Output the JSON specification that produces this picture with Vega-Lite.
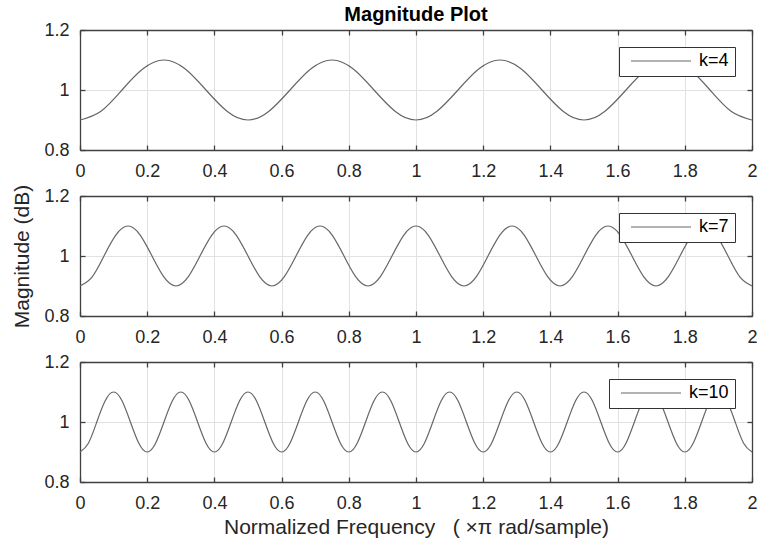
{
  "$schema": "https://vega.github.io/schema/vega-lite/v6.json",
  "background": "white",
  "padding": {"left": 11, "top": 5, "right": 2, "bottom": 2},
  "config": {
    "font": "Liberation Sans",
    "view": {"stroke": null},
    "axis": {
      "domainColor": "#404040",
      "domainWidth": 1.3,
      "tickColor": "#404040",
      "tickWidth": 1.3,
      "tickSize": -5,
      "gridColor": "#e2e2e2",
      "gridWidth": 1,
      "labelFont": "Liberation Sans",
      "labelFontSize": 18,
      "labelColor": "#262626",
      "titleFont": "Liberation Sans",
      "titleFontSize": 21,
      "titleFontWeight": "normal",
      "titleColor": "#262626"
    },
    "legend": {
      "title": null,
      "orient": "top-right",
      "offset": 17,
      "symbolType": "stroke",
      "symbolSize": 3600,
      "symbolStrokeWidth": 1.2,
      "symbolOffset": 5,
      "clipHeight": 16,
      "labelFont": "Liberation Sans",
      "labelFontSize": 18,
      "labelColor": "#000000",
      "labelOffset": 7,
      "padding": 6,
      "strokeColor": "#333333",
      "fillColor": "white"
    }
  },
  "datasets": {
    "k4": [
      {"k": "k=4", "w": 0, "m": 0.9}, {"k": "k=4", "w": 0.0625, "m": 0.9293}, {"k": "k=4", "w": 0.125, "m": 1}, {"k": "k=4", "w": 0.1875, "m": 1.0707},
      {"k": "k=4", "w": 0.25, "m": 1.1}, {"k": "k=4", "w": 0.3125, "m": 1.0707}, {"k": "k=4", "w": 0.375, "m": 1}, {"k": "k=4", "w": 0.4375, "m": 0.9293},
      {"k": "k=4", "w": 0.5, "m": 0.9}, {"k": "k=4", "w": 0.5625, "m": 0.9293}, {"k": "k=4", "w": 0.625, "m": 1}, {"k": "k=4", "w": 0.6875, "m": 1.0707},
      {"k": "k=4", "w": 0.75, "m": 1.1}, {"k": "k=4", "w": 0.8125, "m": 1.0707}, {"k": "k=4", "w": 0.875, "m": 1}, {"k": "k=4", "w": 0.9375, "m": 0.9293},
      {"k": "k=4", "w": 1, "m": 0.9}, {"k": "k=4", "w": 1.0625, "m": 0.9293}, {"k": "k=4", "w": 1.125, "m": 1}, {"k": "k=4", "w": 1.1875, "m": 1.0707},
      {"k": "k=4", "w": 1.25, "m": 1.1}, {"k": "k=4", "w": 1.3125, "m": 1.0707}, {"k": "k=4", "w": 1.375, "m": 1}, {"k": "k=4", "w": 1.4375, "m": 0.9293},
      {"k": "k=4", "w": 1.5, "m": 0.9}, {"k": "k=4", "w": 1.5625, "m": 0.9293}, {"k": "k=4", "w": 1.625, "m": 1}, {"k": "k=4", "w": 1.6875, "m": 1.0707},
      {"k": "k=4", "w": 1.75, "m": 1.1}, {"k": "k=4", "w": 1.8125, "m": 1.0707}, {"k": "k=4", "w": 1.875, "m": 1}, {"k": "k=4", "w": 1.9375, "m": 0.9293},
      {"k": "k=4", "w": 2, "m": 0.9}
    ],
    "k7": [
      {"k": "k=7", "w": 0, "m": 0.9}, {"k": "k=7", "w": 0.0357, "m": 0.9293}, {"k": "k=7", "w": 0.0714, "m": 1}, {"k": "k=7", "w": 0.1071, "m": 1.0707},
      {"k": "k=7", "w": 0.1429, "m": 1.1}, {"k": "k=7", "w": 0.1786, "m": 1.0707}, {"k": "k=7", "w": 0.2143, "m": 1}, {"k": "k=7", "w": 0.25, "m": 0.9293},
      {"k": "k=7", "w": 0.2857, "m": 0.9}, {"k": "k=7", "w": 0.3214, "m": 0.9293}, {"k": "k=7", "w": 0.3571, "m": 1}, {"k": "k=7", "w": 0.3929, "m": 1.0707},
      {"k": "k=7", "w": 0.4286, "m": 1.1}, {"k": "k=7", "w": 0.4643, "m": 1.0707}, {"k": "k=7", "w": 0.5, "m": 1}, {"k": "k=7", "w": 0.5357, "m": 0.9293},
      {"k": "k=7", "w": 0.5714, "m": 0.9}, {"k": "k=7", "w": 0.6071, "m": 0.9293}, {"k": "k=7", "w": 0.6429, "m": 1}, {"k": "k=7", "w": 0.6786, "m": 1.0707},
      {"k": "k=7", "w": 0.7143, "m": 1.1}, {"k": "k=7", "w": 0.75, "m": 1.0707}, {"k": "k=7", "w": 0.7857, "m": 1}, {"k": "k=7", "w": 0.8214, "m": 0.9293},
      {"k": "k=7", "w": 0.8571, "m": 0.9}, {"k": "k=7", "w": 0.8929, "m": 0.9293}, {"k": "k=7", "w": 0.9286, "m": 1}, {"k": "k=7", "w": 0.9643, "m": 1.0707},
      {"k": "k=7", "w": 1, "m": 1.1}, {"k": "k=7", "w": 1.0357, "m": 1.0707}, {"k": "k=7", "w": 1.0714, "m": 1}, {"k": "k=7", "w": 1.1071, "m": 0.9293},
      {"k": "k=7", "w": 1.1429, "m": 0.9}, {"k": "k=7", "w": 1.1786, "m": 0.9293}, {"k": "k=7", "w": 1.2143, "m": 1}, {"k": "k=7", "w": 1.25, "m": 1.0707},
      {"k": "k=7", "w": 1.2857, "m": 1.1}, {"k": "k=7", "w": 1.3214, "m": 1.0707}, {"k": "k=7", "w": 1.3571, "m": 1}, {"k": "k=7", "w": 1.3929, "m": 0.9293},
      {"k": "k=7", "w": 1.4286, "m": 0.9}, {"k": "k=7", "w": 1.4643, "m": 0.9293}, {"k": "k=7", "w": 1.5, "m": 1}, {"k": "k=7", "w": 1.5357, "m": 1.0707},
      {"k": "k=7", "w": 1.5714, "m": 1.1}, {"k": "k=7", "w": 1.6071, "m": 1.0707}, {"k": "k=7", "w": 1.6429, "m": 1}, {"k": "k=7", "w": 1.6786, "m": 0.9293},
      {"k": "k=7", "w": 1.7143, "m": 0.9}, {"k": "k=7", "w": 1.75, "m": 0.9293}, {"k": "k=7", "w": 1.7857, "m": 1}, {"k": "k=7", "w": 1.8214, "m": 1.0707},
      {"k": "k=7", "w": 1.8571, "m": 1.1}, {"k": "k=7", "w": 1.8929, "m": 1.0707}, {"k": "k=7", "w": 1.9286, "m": 1}, {"k": "k=7", "w": 1.9643, "m": 0.9293},
      {"k": "k=7", "w": 2, "m": 0.9}
    ],
    "k10": [
      {"k": "k=10", "w": 0, "m": 0.9}, {"k": "k=10", "w": 0.025, "m": 0.9293}, {"k": "k=10", "w": 0.05, "m": 1}, {"k": "k=10", "w": 0.075, "m": 1.0707},
      {"k": "k=10", "w": 0.1, "m": 1.1}, {"k": "k=10", "w": 0.125, "m": 1.0707}, {"k": "k=10", "w": 0.15, "m": 1}, {"k": "k=10", "w": 0.175, "m": 0.9293},
      {"k": "k=10", "w": 0.2, "m": 0.9}, {"k": "k=10", "w": 0.225, "m": 0.9293}, {"k": "k=10", "w": 0.25, "m": 1}, {"k": "k=10", "w": 0.275, "m": 1.0707},
      {"k": "k=10", "w": 0.3, "m": 1.1}, {"k": "k=10", "w": 0.325, "m": 1.0707}, {"k": "k=10", "w": 0.35, "m": 1}, {"k": "k=10", "w": 0.375, "m": 0.9293},
      {"k": "k=10", "w": 0.4, "m": 0.9}, {"k": "k=10", "w": 0.425, "m": 0.9293}, {"k": "k=10", "w": 0.45, "m": 1}, {"k": "k=10", "w": 0.475, "m": 1.0707},
      {"k": "k=10", "w": 0.5, "m": 1.1}, {"k": "k=10", "w": 0.525, "m": 1.0707}, {"k": "k=10", "w": 0.55, "m": 1}, {"k": "k=10", "w": 0.575, "m": 0.9293},
      {"k": "k=10", "w": 0.6, "m": 0.9}, {"k": "k=10", "w": 0.625, "m": 0.9293}, {"k": "k=10", "w": 0.65, "m": 1}, {"k": "k=10", "w": 0.675, "m": 1.0707},
      {"k": "k=10", "w": 0.7, "m": 1.1}, {"k": "k=10", "w": 0.725, "m": 1.0707}, {"k": "k=10", "w": 0.75, "m": 1}, {"k": "k=10", "w": 0.775, "m": 0.9293},
      {"k": "k=10", "w": 0.8, "m": 0.9}, {"k": "k=10", "w": 0.825, "m": 0.9293}, {"k": "k=10", "w": 0.85, "m": 1}, {"k": "k=10", "w": 0.875, "m": 1.0707},
      {"k": "k=10", "w": 0.9, "m": 1.1}, {"k": "k=10", "w": 0.925, "m": 1.0707}, {"k": "k=10", "w": 0.95, "m": 1}, {"k": "k=10", "w": 0.975, "m": 0.9293},
      {"k": "k=10", "w": 1, "m": 0.9}, {"k": "k=10", "w": 1.025, "m": 0.9293}, {"k": "k=10", "w": 1.05, "m": 1}, {"k": "k=10", "w": 1.075, "m": 1.0707},
      {"k": "k=10", "w": 1.1, "m": 1.1}, {"k": "k=10", "w": 1.125, "m": 1.0707}, {"k": "k=10", "w": 1.15, "m": 1}, {"k": "k=10", "w": 1.175, "m": 0.9293},
      {"k": "k=10", "w": 1.2, "m": 0.9}, {"k": "k=10", "w": 1.225, "m": 0.9293}, {"k": "k=10", "w": 1.25, "m": 1}, {"k": "k=10", "w": 1.275, "m": 1.0707},
      {"k": "k=10", "w": 1.3, "m": 1.1}, {"k": "k=10", "w": 1.325, "m": 1.0707}, {"k": "k=10", "w": 1.35, "m": 1}, {"k": "k=10", "w": 1.375, "m": 0.9293},
      {"k": "k=10", "w": 1.4, "m": 0.9}, {"k": "k=10", "w": 1.425, "m": 0.9293}, {"k": "k=10", "w": 1.45, "m": 1}, {"k": "k=10", "w": 1.475, "m": 1.0707},
      {"k": "k=10", "w": 1.5, "m": 1.1}, {"k": "k=10", "w": 1.525, "m": 1.0707}, {"k": "k=10", "w": 1.55, "m": 1}, {"k": "k=10", "w": 1.575, "m": 0.9293},
      {"k": "k=10", "w": 1.6, "m": 0.9}, {"k": "k=10", "w": 1.625, "m": 0.9293}, {"k": "k=10", "w": 1.65, "m": 1}, {"k": "k=10", "w": 1.675, "m": 1.0707},
      {"k": "k=10", "w": 1.7, "m": 1.1}, {"k": "k=10", "w": 1.725, "m": 1.0707}, {"k": "k=10", "w": 1.75, "m": 1}, {"k": "k=10", "w": 1.775, "m": 0.9293},
      {"k": "k=10", "w": 1.8, "m": 0.9}, {"k": "k=10", "w": 1.825, "m": 0.9293}, {"k": "k=10", "w": 1.85, "m": 1}, {"k": "k=10", "w": 1.875, "m": 1.0707},
      {"k": "k=10", "w": 1.9, "m": 1.1}, {"k": "k=10", "w": 1.925, "m": 1.0707}, {"k": "k=10", "w": 1.95, "m": 1}, {"k": "k=10", "w": 1.975, "m": 0.9293},
      {"k": "k=10", "w": 2, "m": 0.9}
    ]
  },
  "bounds": "flush",
  "spacing": 46,
  "resolve": {"scale": {"color": "independent"}, "legend": {"color": "independent"}},
  "vconcat": [
    {
      "width": 672,
      "height": 120,
      "title": {"text": "Magnitude Plot", "frame": "group", "anchor": "middle", "fontSize": 20, "fontWeight": "bold", "color": "#000000", "offset": -4},
      "data": {"name": "k4"},
      "layer": [
        {
          "mark": {"type": "line", "interpolate": "natural", "strokeWidth": 1.2},
          "encoding": {
            "x": {"field": "w", "type": "quantitative", "scale": {"domain": [0, 2], "nice": false},
              "axis": {"orient": "bottom", "title": null, "values": [0, 0.2, 0.4, 0.6, 0.8, 1, 1.2, 1.4, 1.6, 1.8, 2], "format": "~g", "labelFlush": false, "labelPadding": 17, "grid": true}},
            "y": {"field": "m", "type": "quantitative", "scale": {"domain": [0.8, 1.2], "nice": false, "zero": false},
              "axis": {"orient": "left", "title": null, "values": [0.8, 1, 1.2], "format": "~g", "labelPadding": 16, "grid": true}},
            "color": {"field": "k", "type": "nominal", "scale": {"range": ["#666666"]}}
          }
        },
        {
          "mark": {"type": "line", "strokeOpacity": 0},
          "encoding": {
            "x": {"field": "w", "type": "quantitative", "axis": {"orient": "top", "title": null, "labels": false, "grid": false, "values": [0, 0.2, 0.4, 0.6, 0.8, 1, 1.2, 1.4, 1.6, 1.8, 2]}},
            "y": {"field": "m", "type": "quantitative", "axis": {"orient": "right", "title": null, "labels": false, "grid": false, "values": [0.8, 1, 1.2]}}
          }
        }
      ],
      "resolve": {"axis": {"x": "independent", "y": "independent"}}
    },
    {
      "width": 672,
      "height": 120,
      "data": {"name": "k7"},
      "layer": [
        {
          "mark": {"type": "line", "interpolate": "natural", "strokeWidth": 1.2},
          "encoding": {
            "x": {"field": "w", "type": "quantitative", "scale": {"domain": [0, 2], "nice": false},
              "axis": {"orient": "bottom", "title": null, "values": [0, 0.2, 0.4, 0.6, 0.8, 1, 1.2, 1.4, 1.6, 1.8, 2], "format": "~g", "labelFlush": false, "labelPadding": 17, "grid": true}},
            "y": {"field": "m", "type": "quantitative", "scale": {"domain": [0.8, 1.2], "nice": false, "zero": false},
              "axis": {"orient": "left", "title": "Magnitude (dB)", "titlePadding": 11, "values": [0.8, 1, 1.2], "format": "~g", "labelPadding": 16, "grid": true}},
            "color": {"field": "k", "type": "nominal", "scale": {"range": ["#666666"]}}
          }
        },
        {
          "mark": {"type": "line", "strokeOpacity": 0},
          "encoding": {
            "x": {"field": "w", "type": "quantitative", "axis": {"orient": "top", "title": null, "labels": false, "grid": false, "values": [0, 0.2, 0.4, 0.6, 0.8, 1, 1.2, 1.4, 1.6, 1.8, 2]}},
            "y": {"field": "m", "type": "quantitative", "axis": {"orient": "right", "title": null, "labels": false, "grid": false, "values": [0.8, 1, 1.2]}}
          }
        }
      ],
      "resolve": {"axis": {"x": "independent", "y": "independent"}}
    },
    {
      "width": 672,
      "height": 120,
      "data": {"name": "k10"},
      "layer": [
        {
          "mark": {"type": "line", "interpolate": "natural", "strokeWidth": 1.2},
          "encoding": {
            "x": {"field": "w", "type": "quantitative", "scale": {"domain": [0, 2], "nice": false},
              "axis": {"orient": "bottom", "title": "Normalized Frequency\u00a0\u00a0 (\u00a0×π rad/sample)", "titlePadding": 4, "values": [0, 0.2, 0.4, 0.6, 0.8, 1, 1.2, 1.4, 1.6, 1.8, 2], "format": "~g", "labelFlush": false, "labelPadding": 17, "grid": true}},
            "y": {"field": "m", "type": "quantitative", "scale": {"domain": [0.8, 1.2], "nice": false, "zero": false},
              "axis": {"orient": "left", "title": null, "values": [0.8, 1, 1.2], "format": "~g", "labelPadding": 16, "grid": true}},
            "color": {"field": "k", "type": "nominal", "scale": {"range": ["#666666"]}}
          }
        },
        {
          "mark": {"type": "line", "strokeOpacity": 0},
          "encoding": {
            "x": {"field": "w", "type": "quantitative", "axis": {"orient": "top", "title": null, "labels": false, "grid": false, "values": [0, 0.2, 0.4, 0.6, 0.8, 1, 1.2, 1.4, 1.6, 1.8, 2]}},
            "y": {"field": "m", "type": "quantitative", "axis": {"orient": "right", "title": null, "labels": false, "grid": false, "values": [0.8, 1, 1.2]}}
          }
        }
      ],
      "resolve": {"axis": {"x": "independent", "y": "independent"}}
    }
  ]
}
